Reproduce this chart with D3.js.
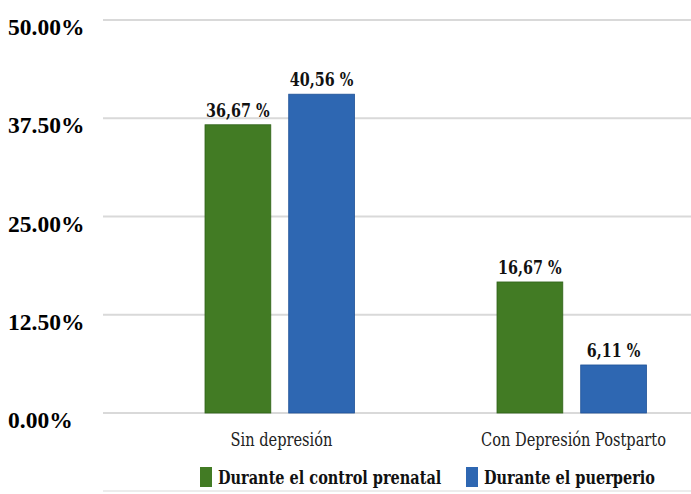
<!DOCTYPE html>
<html>
<head>
<meta charset="utf-8">
<script src="https://cdn.jsdelivr.net/npm/d3@7"></script>
<style>
  body { margin: 0; background: #fff; }
  svg { display: block; }
</style>
</head>
<body>
<script>
// datos
var categories = ['Sin depresión', 'Con Depresión Postparto'];
var seriesNames = ['Durante el control prenatal', 'Durante el puerperio'];
var prenatal = [36.67, 16.67];
var puerperio = [40.56, 6.11];
var yTicks = [0, 12.5, 25, 37.5, 50];

var colors = ['#427b24', '#2e67b2'];
var strokes = ['#2f6218', '#1f5297'];

var width = 691, height = 494;

var svg = d3.select('body')
  .append('svg')
    .attr('width', width)
    .attr('height', height);

// comprime el texto en horizontal (fuente estrecha tipo Cambria)
function condense(sel, k) {
  sel.each(function() {
    var w = this.getComputedTextLength();
    d3.select(this)
      .attr('textLength', w * k)
      .attr('lengthAdjust', 'spacingAndGlyphs');
  });
}

// escalas
var y = d3.scaleLinear()
    .domain([0, 50])
    .range([413, 20]);

var x0 = d3.scaleBand()
    .domain(categories)
    .range([133.5, 717.5]);

var x1 = d3.scaleBand()
    .domain(seriesNames)
    .range([71.5, 221])
    .paddingInner(0.214);

// lineas de la grilla
svg.append('g')
  .selectAll('line')
  .data(yTicks)
  .join('line')
    .attr('x1', 103)
    .attr('x2', width)
    .attr('y1', function(d) { return y(d); })
    .attr('y2', function(d) { return y(d); })
    .attr('stroke', '#d9d9d9')
    .attr('stroke-width', 2);

// linea inferior bajo la leyenda
svg.append('line')
    .attr('x1', 103).attr('x2', width)
    .attr('y1', 491).attr('y2', 491)
    .attr('stroke', '#e6e6e6')
    .attr('stroke-width', 1.5);

// etiquetas del eje y
svg.append('g')
  .selectAll('text')
  .data(yTicks)
  .join('text')
    .attr('x', 8)
    .attr('y', function(d) { return y(d) + 15; })
    .attr('font-family', '"Liberation Serif", "Times New Roman", serif')
    .attr('font-weight', 'bold')
    .attr('font-size', 23.5)
    .attr('fill', '#000')
    .text(function(d) { return d.toFixed(2) + '%'; });

// barras
var rows = categories.map(function(c, i) {
  return { cat: c, values: [prenatal[i], puerperio[i]] };
});

var groups = svg.append('g')
  .selectAll('g')
  .data(rows)
  .join('g')
    .attr('transform', function(d) { return 'translate(' + x0(d.cat) + ',0)'; });

function items(d) {
  return d.values.map(function(v, j) { return { s: seriesNames[j], v: v, j: j }; });
}

groups.selectAll('rect')
  .data(items)
  .join('rect')
    .attr('x', function(d) { return x1(d.s); })
    .attr('y', function(d) { return y(d.v); })
    .attr('width', x1.bandwidth())
    .attr('height', function(d) { return y(0) - y(d.v); })
    .attr('fill', function(d) { return colors[d.j]; })
    .attr('stroke', function(d) { return strokes[d.j]; })
    .attr('stroke-width', 0.8);

var condensed = '"DejaVu Serif Condensed", "DejaVu Serif", serif';

groups.selectAll('text.val')
  .data(items)
  .join('text')
    .attr('class', 'val')
    .attr('x', function(d) { return x1(d.s) + x1.bandwidth() / 2; })
    .attr('y', function(d) { return y(d.v) - 8; })
    .attr('text-anchor', 'middle')
    .attr('font-family', condensed)
    .attr('font-stretch', 'condensed')
    .attr('font-weight', 'bold')
    .attr('font-size', 19)
    .attr('fill', '#111')
    .text(function(d) { return d.v.toFixed(2).replace('.', ',') + ' %'; })
    .call(condense, 0.84);

// etiquetas de categorias
svg.append('g')
  .selectAll('text')
  .data(categories)
  .join('text')
    .attr('x', function(d) { return x0(d) + x0.bandwidth() / 2 + 2; })
    .attr('y', 446)
    .attr('text-anchor', 'middle')
    .attr('font-family', condensed)
    .attr('font-stretch', 'condensed')
    .attr('font-size', 18)
    .attr('fill', '#222')
    .text(function(d) { return d; })
    .call(condense, 0.9);

// leyenda
var legendX = [200, 466];
var legend = svg.append('g')
  .selectAll('g')
  .data(seriesNames)
  .join('g')
    .attr('transform', function(d, i) { return 'translate(' + legendX[i] + ',467)'; });

legend.append('rect')
    .attr('width', 12)
    .attr('height', 20)
    .attr('fill', function(d, i) { return colors[i]; });

legend.append('text')
    .attr('x', 18)
    .attr('y', 17)
    .attr('font-family', condensed)
    .attr('font-stretch', 'condensed')
    .attr('font-weight', 'bold')
    .attr('font-size', 18.5)
    .attr('fill', '#111')
    .text(function(d) { return d; })
    .call(condense, 0.87);
</script>
</body>
</html>
